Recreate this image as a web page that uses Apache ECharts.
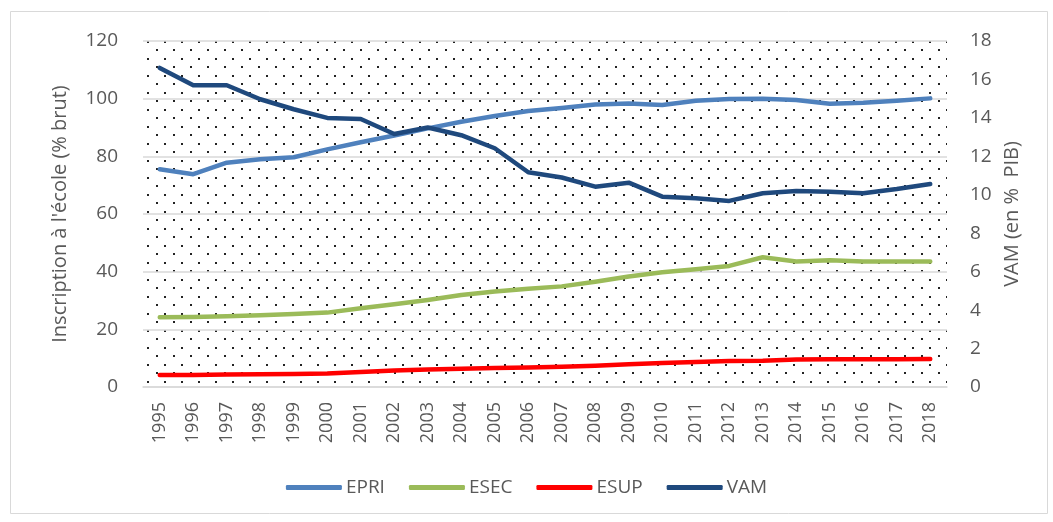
<!DOCTYPE html>
<html>
<head>
<meta charset="utf-8">
<script src="https://cdn.jsdelivr.net/npm/echarts@6/dist/echarts.min.js"></script>
<style>
  html, body { margin: 0; padding: 0; background: #fff; }
  #main { width: 1053px; height: 522px; }
</style>
</head>
<body>
<div id="main"></div>
<script>
// années
var years = ['1995','1996','1997','1998','1999','2000','2001','2002','2003','2004','2005','2006',
             '2007','2008','2009','2010','2011','2012','2013','2014','2015','2016','2017','2018'];
// inscription (% brut), axe gauche
var epri = [75.5, 73.8, 77.8, 79.0, 79.7, 82.4, 84.9, 87.2, 89.7, 92.0, 94.0, 95.7,
            96.8, 98.0, 98.3, 97.8, 99.3, 99.9, 100.0, 99.5, 98.2, 98.6, 99.3, 100.1];
var esec = [24.2, 24.3, 24.5, 24.9, 25.3, 25.8, 27.3, 28.7, 30.2, 31.9, 33.1, 34.1,
            34.9, 36.5, 38.3, 39.8, 40.8, 42.0, 45.0, 43.5, 44.0, 43.5, 43.5, 43.5];
var esup = [4.2, 4.2, 4.3, 4.4, 4.5, 4.7, 5.2, 5.7, 6.1, 6.3, 6.6, 6.8,
            7.0, 7.4, 7.9, 8.3, 8.7, 9.0, 9.1, 9.5, 9.6, 9.6, 9.6, 9.7];
// VAM (en % PIB), axe droit
var vam = [16.6, 15.7, 15.7, 14.97, 14.45, 14.0, 13.94, 13.16, 13.5, 13.1, 12.42, 11.17,
           10.9, 10.42, 10.63, 9.9, 9.82, 9.68, 10.08, 10.2, 10.16, 10.08, 10.3, 10.56];

var font = '"Open Sans", Lato, sans-serif';
var txt = '#595959';

// motif pointillé du fond
var tile = document.createElement('canvas');
tile.width = 17; tile.height = 17;
var c = tile.getContext('2d');
c.fillStyle = '#222';
c.fillRect(3, 15, 2, 2);
c.fillRect(11, 7, 2, 2);

var myChart = echarts.init(document.getElementById('main'));

function line(name, data, color, axis) {
  return {
    name: name,
    type: 'line',
    yAxisIndex: axis,
    data: data,
    symbol: 'none',
    lineStyle: { color: color, width: 4.5, cap: 'round', join: 'round' },
    itemStyle: { color: color }
  };
}

var option = {
  backgroundColor: '#fff',
  animation: false,
  textStyle: { fontFamily: font },
  graphic: [{
    type: 'rect',
    shape: { x: 10.5, y: 11.5, width: 1037, height: 502 },
    style: { fill: 'none', stroke: '#d9d9d9', lineWidth: 1 },
    silent: true
  }],
  grid: {
    left: 143, right: 106, top: 41, bottom: 135,
    show: true,
    borderWidth: 0,
    backgroundColor: { image: tile, repeat: 'repeat' }
  },
  legend: {
    bottom: 20,
    left: 'center',
    itemWidth: 56,
    itemHeight: 5,
    itemGap: 24,
    icon: 'roundRect',
    textStyle: { color: txt, fontSize: 19, fontFamily: font, padding: [0, 0, 0, -1] },
    data: ['EPRI', 'ESEC', 'ESUP', 'VAM']
  },
  xAxis: {
    type: 'category',
    data: years,
    boundaryGap: true,
    axisLine: { lineStyle: { color: '#d9d9d9', width: 1.5 } },
    axisTick: { show: false },
    axisLabel: { rotate: 90, color: txt, fontSize: 18, fontFamily: font, margin: 15 }
  },
  yAxis: [{
    type: 'value',
    min: 0, max: 120, interval: 20,
    name: "Inscription à l'école (% brut)",
    nameLocation: 'middle',
    nameGap: 73,
    nameTextStyle: { color: txt, fontSize: 20, fontFamily: font },
    axisLine: { show: false },
    axisTick: { show: false },
    axisLabel: { color: txt, fontSize: 19, fontFamily: font, margin: 25 },
    splitLine: { lineStyle: { color: '#d9d9d9', width: 1.5 } }
  }, {
    type: 'value',
    min: 0, max: 18, interval: 2,
    name: 'VAM (en %  PIB)',
    nameLocation: 'middle',
    nameGap: 55,
    nameTextStyle: { color: txt, fontSize: 20, fontFamily: font },
    axisLine: { show: false },
    axisTick: { show: false },
    axisLabel: { color: txt, fontSize: 19, fontFamily: font, margin: 23 },
    splitLine: { show: false }
  }],
  series: [
    line('EPRI', epri, '#4f81bd', 0),
    line('ESEC', esec, '#9bbb59', 0),
    line('ESUP', esup, '#ff0000', 0),
    line('VAM', vam, '#1f497d', 1)
  ]
};

myChart.setOption(option);
</script>
</body>
</html>
